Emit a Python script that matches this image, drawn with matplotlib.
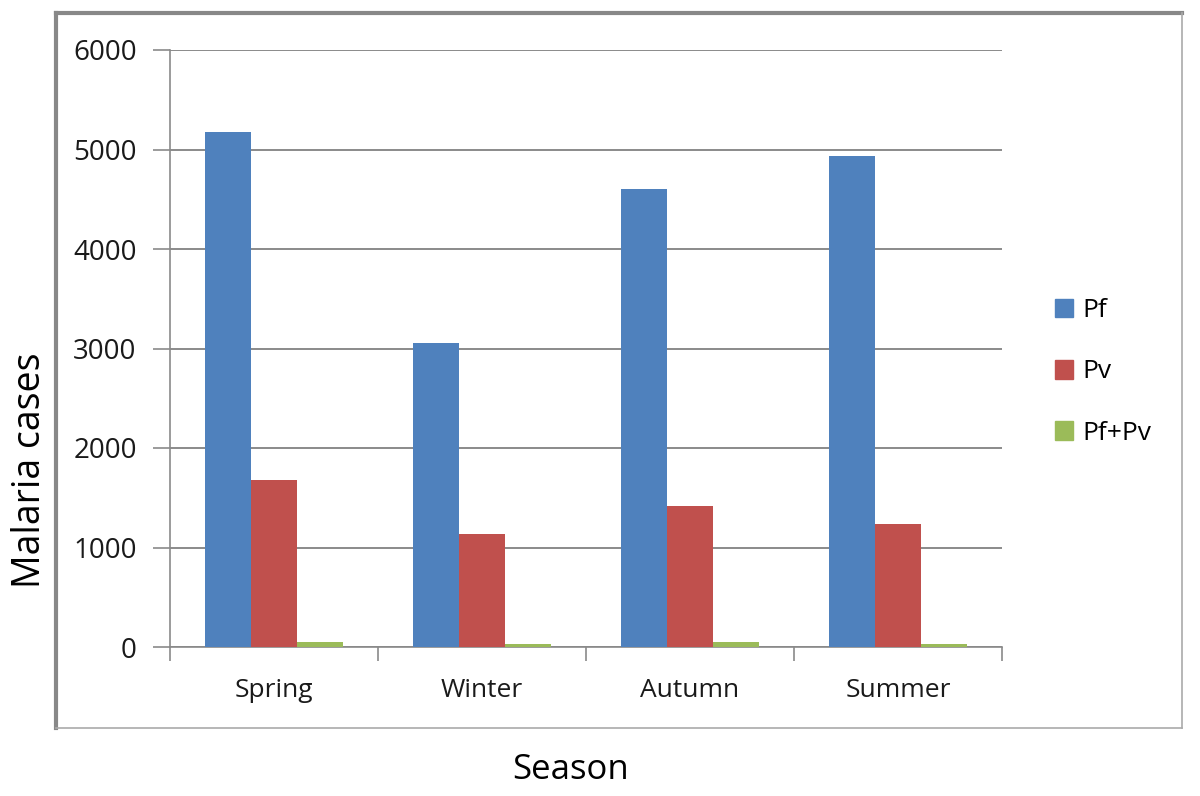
import numpy as np
import matplotlib.pyplot as plt
from matplotlib.lines import Line2D
from matplotlib.patches import Patch

plt.rcParams['font.family'] = ['Open Sans', 'DejaVu Sans']

# data
seasons = ["Spring", "Winter", "Autumn", "Summer"]
pf = [5180, 3060, 4605, 4930]
pv = [1680, 1135, 1415, 1235]
pf_pv = [55, 35, 55, 35]

colors = ["#4F81BD", "#C0504D", "#9BBB59"]
labels = ["Pf", "Pv", "Pf+Pv"]
grey = "#8a8a8a"

fig = plt.figure(figsize=(12, 7.96), dpi=100)
ax = fig.add_axes([170/1200, 1-647/796, 832/1200, 597/796])

x = np.arange(len(seasons))
w = 0.222
for i, vals in enumerate([pf, pv, pf_pv]):
    ax.bar(x + (i-1)*w, vals, width=w, color=colors[i], zorder=3)

ax.set_xlim(-0.5, 3.5)
ax.set_ylim(0, 6000)
ax.set_yticks(np.arange(0, 6001, 1000))
ax.yaxis.grid(True, color=grey, lw=1.4, zorder=0)

ax.set_xticks(x)
ax.set_xticklabels(seasons)
ax.set_xticks(np.arange(-0.5, 4.0, 1), minor=True)
ax.tick_params(axis='x', which='major', length=0, pad=22, labelsize=19, labelcolor="#1a1a1a")
ax.tick_params(axis='x', which='minor', length=10, width=1.2, color=grey)
ax.tick_params(axis='y', length=12, width=1.2, color=grey, pad=12, labelsize=20, labelcolor="#1a1a1a")

for s in ['top', 'right']:
    ax.spines[s].set_visible(False)
for s in ['left', 'bottom']:
    ax.spines[s].set_color(grey)
    ax.spines[s].set_linewidth(1.2)

handles = [Patch(color=c) for c in colors]
fig.legend(handles, labels, loc='center left', bbox_to_anchor=(1055/1200, 1-372/796),
           frameon=False, fontsize=19, labelspacing=1.38, handlelength=0.7, handleheight=0.7,
           handletextpad=0.35, borderpad=0, borderaxespad=0)

# outer chart border
X = lambda px: px/1200
Y = lambda py: 1-py/796
fig.add_artist(Line2D([X(56), X(56)], [Y(13), Y(728)], color="#888888", lw=3))
fig.add_artist(Line2D([X(56), X(1182)], [Y(13), Y(13)], color="#888888", lw=3))
fig.add_artist(Line2D([X(1182), X(1182)], [Y(13), Y(728)], color="#aaaaaa", lw=1.2))
fig.add_artist(Line2D([X(56), X(1182)], [Y(728), Y(728)], color="#aaaaaa", lw=1.2))

fig.text(X(30), Y(470), "Malaria cases", rotation=90, ha='center', va='center', fontsize=27)
fig.text(X(571), Y(770), "Season", ha='center', va='center', fontsize=25)

fig.savefig("out.png", dpi=100)
